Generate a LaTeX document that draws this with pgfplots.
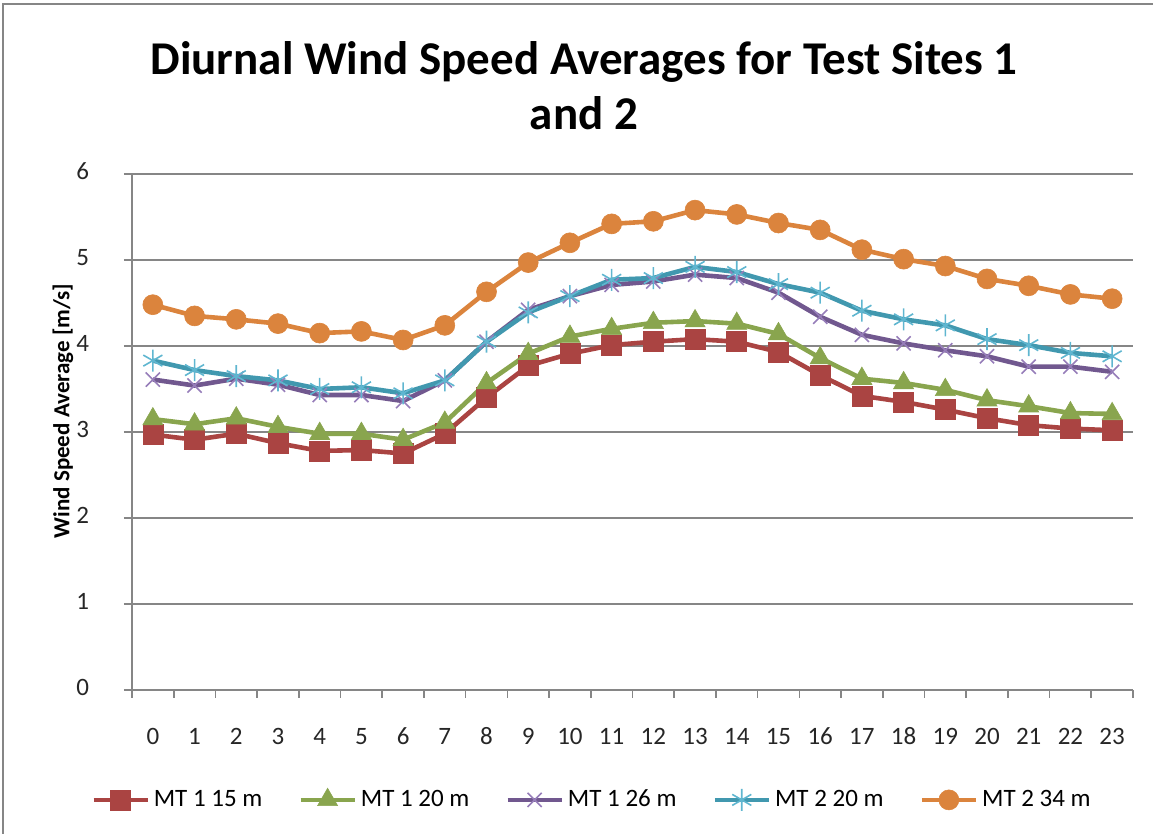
\documentclass[border=0pt]{standalone}
\usepackage{pgfplots}
\pgfplotsset{compat=1.18}
\usepackage{pgfplotstable}
\usepackage{fontspec}
\setmainfont{Carlito}
\definecolor{sred}{RGB}{170,68,66}
\definecolor{sgreen}{RGB}{137,165,78}
\definecolor{spurple}{RGB}{113,88,143}
\definecolor{spurplem}{RGB}{150,125,185}
\definecolor{sblue}{RGB}{65,152,175}
\definecolor{sbluem}{RGB}{95,182,208}
\definecolor{sorange}{RGB}{219,132,61}
\definecolor{gridgray}{RGB}{134,134,134}

% hour, MT1 15m, MT1 20m, MT1 26m, MT2 20m, MT2 34m
\pgfplotstableread{
h  a    b    c    d    e
0  2.97 3.15 3.61 3.83 4.48
1  2.91 3.09 3.54 3.72 4.35
2  2.98 3.16 3.62 3.65 4.31
3  2.87 3.06 3.55 3.60 4.26
4  2.78 2.98 3.43 3.50 4.15
5  2.79 2.98 3.43 3.52 4.17
6  2.75 2.91 3.36 3.45 4.07
7  2.98 3.11 3.60 3.60 4.24
8  3.40 3.57 4.05 4.05 4.63
9  3.77 3.91 4.42 4.39 4.97
10 3.91 4.11 4.58 4.58 5.20
11 4.01 4.20 4.71 4.77 5.42
12 4.05 4.27 4.75 4.79 5.45
13 4.08 4.29 4.83 4.92 5.58
14 4.05 4.26 4.79 4.86 5.53
15 3.93 4.14 4.62 4.72 5.43
16 3.66 3.86 4.34 4.62 5.35
17 3.42 3.62 4.13 4.41 5.12
18 3.35 3.57 4.03 4.31 5.01
19 3.26 3.49 3.95 4.24 4.93
20 3.16 3.37 3.88 4.08 4.78
21 3.08 3.30 3.76 4.01 4.70
22 3.04 3.22 3.76 3.92 4.60
23 3.02 3.21 3.70 3.88 4.55
}\wind

\begin{document}
\begin{tikzpicture}
\path[use as bounding box] (-66pt,-72pt) rectangle (510.5pt,345pt);
\draw[gridgray, line width=1.2pt] (-64.5pt,-80pt) -- (-64.5pt,343pt) -- (520pt,343pt);
\begin{axis}[
    at={(0,0)}, anchor=south west,
    scale only axis,
    width=500.5pt, height=258pt,
    xmin=-0.5, xmax=23.5, ymin=0, ymax=6,
    axis x line*=bottom, axis y line*=left,
    axis line style={gridgray, line width=1pt},
    xtick={-0.5,0.5,...,23.5}, xticklabels={},
    extra x ticks={0,1,...,23},
    extra x tick style={major tick length=0pt, grid=none},
    ytick={0,1,...,6},
    tick align=outside, major tick length=4pt,
    tick style={gridgray, line width=0.8pt},
    ymajorgrids, major grid style={gridgray, line width=0.8pt},
    /pgf/number format/assume math mode=true,
    typeset ticklabels with strut,
    tick label style={font=\fontsize{12.5pt}{14pt}\selectfont, text=black!85},
    xticklabel style={yshift=-14pt},
    yticklabel style={xshift=-14pt},
    legend style={at={(axis description cs:0.4605,-0.213)}, anchor=center,
        draw=none, fill=none, font=\fontsize{12.5pt}{14pt}\selectfont,
        legend columns=5,
        /tikz/every even column/.append style={column sep=16pt}},
    legend image code/.code={\draw[mark repeat=2,mark phase=2] plot coordinates {(0pt,0pt)(13.5pt,0pt)(27pt,0pt)};},
    every axis plot/.append style={line width=2.3pt},
]
\addplot[sred, mark=square*, mark size=5pt, mark options={solid, line width=0.3pt}] table[x=h,y=a] {\wind};
\addplot[sgreen, mark=triangle*, mark size=5.8pt, mark options={solid, line width=0.3pt}] table[x=h,y=b] {\wind};
\addplot[spurple, mark=x, mark size=5pt, mark options={spurplem, line width=0.8pt}] table[x=h,y=c] {\wind};
\addplot[sblue, mark=asterisk, mark size=5.5pt, mark options={sbluem, line width=0.8pt}] table[x=h,y=d] {\wind};
\addplot[sorange, mark=*, mark size=5pt, mark options={solid, line width=0.3pt}] table[x=h,y=e] {\wind};
\legend{MT 1 15 m, MT 1 20 m, MT 1 26 m, MT 2 20 m, MT 2 34 m}
\end{axis}
\node[anchor=base, font=\fontsize{23.5pt}{28pt}\selectfont\bfseries] at (226pt,307.5pt) {Diurnal Wind Speed Averages for Test Sites 1};
\node[anchor=base, font=\fontsize{23.5pt}{28pt}\selectfont\bfseries] at (226pt,280pt) {and 2};
\node[rotate=90, font=\fontsize{11.5pt}{14pt}\selectfont\bfseries] at (-34.5pt,139.5pt) {Wind Speed Average [m/s]};
\end{tikzpicture}
\end{document}
